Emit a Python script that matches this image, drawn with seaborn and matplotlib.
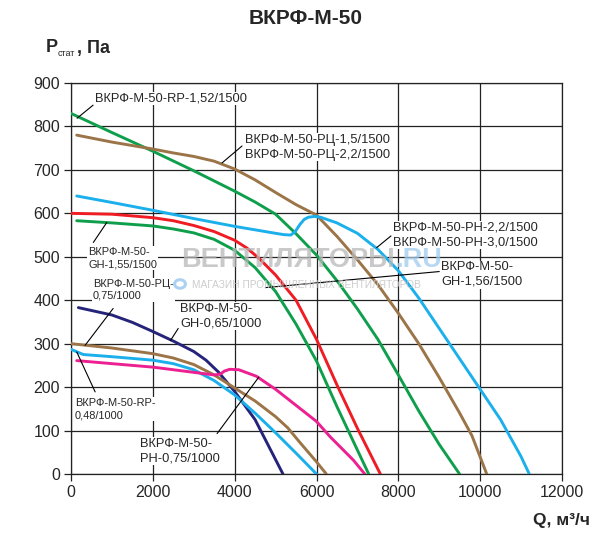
import seaborn as sns
import matplotlib.pyplot as plt
from matplotlib.patches import Circle
import pandas as pd

# curve data: Q in m3/h, P in Pa
rp152_q = [0, 1000, 2000, 3000, 4000, 4500, 5000, 5500, 6000, 6500, 7000, 7500, 8000, 8500, 9000, 9496]
rp152_p = [830, 786, 743, 698, 651, 626, 598, 553, 504, 445, 380, 310, 228, 145, 68, 0]

rc15_q = [140, 1000, 2000, 2500, 3000, 3500, 4000, 4500, 5000, 5500, 6000, 6500, 7000, 7500, 8000, 8500, 9000, 9500, 9800, 10160]
rc15_p = [780, 764, 748, 739, 731, 720, 702, 677, 648, 620, 596, 547, 493, 436, 370, 300, 222, 140, 88, 0]

ph22_q = [140, 1000, 2000, 3000, 4000, 4500, 5000, 5200, 5370, 5480, 5600, 5700, 5800, 5950, 6100, 6500, 7000, 7500, 8000, 8500, 9000, 9500, 10000, 10500, 11000, 11200]
ph22_p = [640, 625, 607, 588, 570, 562, 554, 551, 550, 558, 575, 586, 591, 593, 591, 578, 554, 517, 468, 405, 335, 265, 195, 125, 40, 0]

gh156_q = [0, 1000, 2000, 2500, 3000, 3500, 4000, 4300, 4600, 5000, 5500, 6000, 6500, 7000, 7560]
gh156_p = [600, 598, 590, 583, 572, 558, 538, 520, 496, 458, 400, 310, 205, 105, 0]

gh155_q = [140, 1000, 2000, 2500, 3000, 3500, 4000, 4500, 5000, 5500, 6000, 6500, 7000, 7276]
gh155_p = [583, 578, 571, 564, 555, 540, 515, 475, 420, 345, 260, 155, 55, 0]

gh065_q = [180, 1000, 1500, 2000, 2500, 3000, 3300, 3600, 4000, 4500, 5180]
gh065_p = [383, 366, 349, 328, 306, 282, 262, 235, 190, 125, 0]

rc075_q = [0, 1000, 2000, 2500, 3000, 3500, 4000, 4500, 5000, 5300, 5600, 6000, 6240]
rc075_p = [300, 290, 277, 267, 252, 228, 198, 168, 132, 106, 72, 28, 0]

rp048_q = [0, 300, 1000, 2000, 2500, 3000, 3500, 4000, 4500, 5000, 5500, 6000]
rp048_p = [287, 275, 270, 262, 254, 240, 215, 182, 140, 95, 48, 0]

ph075_q = [140, 1000, 2000, 3000, 3500, 3650, 3750, 3880, 4100, 4530, 5000, 5500, 6000, 6330, 6900, 7180]
ph075_p = [261, 254, 246, 234, 228, 230, 237, 241, 240, 225, 195, 158, 121, 86, 32, 0]

curves = {
    "rp152": (rp152_q, rp152_p),
    "rc15": (rc15_q, rc15_p),
    "ph22": (ph22_q, ph22_p),
    "gh156": (gh156_q, gh156_p),
    "gh155": (gh155_q, gh155_p),
    "gh065": (gh065_q, gh065_p),
    "rc075": (rc075_q, rc075_p),
    "rp048": (rp048_q, rp048_p),
    "ph075": (ph075_q, ph075_p),
}
colors = {
    "rp152": "#0f9f4c",
    "rc15": "#9b7448",
    "ph22": "#1bb0ec",
    "gh156": "#f01c24",
    "gh155": "#0f9f4c",
    "gh065": "#25247a",
    "rc075": "#9b7448",
    "rp048": "#1bb0ec",
    "ph075": "#ec2090",
}

x_ticks = [0, 2000, 4000, 6000, 8000, 10000, 12000]
y_ticks = [0, 100, 200, 300, 400, 500, 600, 700, 800, 900]

rows = []
for name, (qs, ps) in curves.items():
    for q, p in zip(qs, ps):
        rows.append({"curve": name, "Q": q, "P": p})
df = pd.DataFrame(rows)

sns.set_style("white")
plt.rcParams["font.family"] = ["Liberation Sans", "DejaVu Sans"]

W, H = 600, 543
fig = plt.figure(figsize=(W / 100, H / 100), dpi=100)
ax = fig.add_axes([71 / W, 1 - 474 / H, (562 - 71) / W, (474 - 83) / H])

sns.lineplot(data=df, x="Q", y="P", hue="curve", palette=colors,
             estimator=None, sort=False, legend=False, lw=2.1, ax=ax, zorder=3)
for ln in ax.get_lines():
    ln.set_solid_joinstyle("round")
    ln.set_solid_capstyle("round")

ax.set_xlim(0, 12000)
ax.set_ylim(0, 900)
ax.set_xticks(x_ticks)
ax.set_yticks(y_ticks)
ax.grid(True, color="#222222", lw=0.9)
ax.set_axisbelow(True)
for sp in ax.spines.values():
    sp.set_color("#222222")
    sp.set_linewidth(0.9)
ax.tick_params(axis="both", direction="out", length=5, width=0.9, color="#222222",
               labelsize=11.5, pad=3, bottom=True, left=True)
ax.set_xlabel("")
ax.set_ylabel("")

# labels with leader lines
def label(text, tx, ty, line, size=9.3):
    ax.text(tx, ty, text, fontsize=size, ha="left", va="center",
            linespacing=1.3, zorder=6,
            bbox=dict(facecolor="white", edgecolor="none", pad=0.5))
    ax.plot(line[0], line[1], color="black", lw=0.8, zorder=5)

label("ВКРФ-М-50-RP-1,52/1500", 590, 865, ([540, 150], [849, 819]))
label("ВКРФ-М-50-РЦ-1,5/1500\nВКРФ-М-50-РЦ-2,2/1500", 4260, 752, ([4180, 3690], [755, 716]))
label("ВКРФ-М-50-\nGH-1,55/1500", 417, 497, ([546, 875], [533, 579]), size=7.9)
label("ВКРФ-М-50-PH-2,2/1500\nВКРФ-М-50-PH-3,0/1500", 7880, 550, ([7820, 7470], [548, 521]))
label("ВКРФ-М-50-\nGH-1,56/1500", 9040, 459, ([9000, 4750], [466, 429]))
label("ВКРФ-М-50-РЦ-\n0,75/1000", 540, 424, ([1030, 343], [381, 296]), size=7.9)
label("ВКРФ-М-50-\nGH-0,65/1000", 2670, 364, ([2620, 2430], [335, 307]))
label("ВКРФ-М-50-RP-\n0,48/1000", 100, 150, ([590, 140], [189, 281]), size=7.9)
label("ВКРФ-М-50-\nPH-0,75/1000", 1690, 52, ([3570, 4590], [93, 223]))

# watermark
ax.text(0.66, 0.547, "ВЕНТИЛЯТОРЫ", transform=ax.transAxes, ha="right", va="center",
        fontsize=19.5, fontweight="bold", color="#b8b8b8", alpha=0.75, zorder=7)
ax.text(0.66, 0.547, ".RU", transform=ax.transAxes, ha="left", va="center",
        fontsize=19.5, fontweight="bold", color="#9fcbef", alpha=0.75, zorder=7)
ax.text(0.246, 0.483, "МАГАЗИН ПРОМЫШЛЕННЫХ ВЕНТИЛЯТОРОВ", transform=ax.transAxes,
        ha="left", va="center", fontsize=7.3, color="#c4c4c4", alpha=0.85, zorder=7)
ax.add_patch(Circle((0.222, 0.486), 0.011, transform=ax.transAxes, facecolor="white",
                    edgecolor="#9fcbef", lw=2.2, alpha=0.85, zorder=7))

# titles and axis names
fig.text(0.51, 1 - 18 / H, "ВКРФ-М-50", ha="center", va="center",
         fontsize=15, fontweight="bold")
fig.text(46 / W, 1 - 48 / H, "P", ha="left", va="center", fontsize=13, fontweight="bold")
fig.text(58 / W, 1 - 53 / H, "стат", ha="left", va="center", fontsize=6.5)
fig.text(77 / W, 1 - 48 / H, ", Па", ha="left", va="center", fontsize=13, fontweight="bold")
fig.text(590 / W, 1 - 520 / H, "Q, м³/ч", ha="right", va="center",
         fontsize=12.5, fontweight="bold")

fig.savefig("out.png", dpi=100)
